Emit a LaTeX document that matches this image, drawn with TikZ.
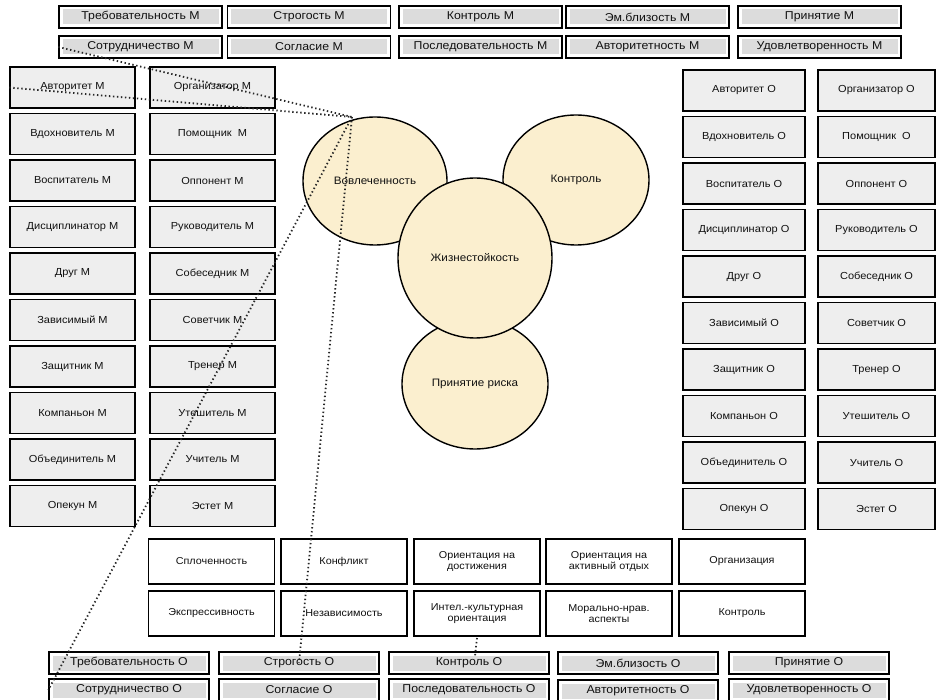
\documentclass[tikz,border=0pt]{standalone}
\usepackage{fontspec}
\setmainfont{Liberation Sans}[FakeStretch=1.08]
\usetikzlibrary{shapes.geometric}
\definecolor{circfill}{HTML}{FBEFCF}
\definecolor{boxfill}{HTML}{EEEEEE}
\definecolor{barfill}{HTML}{DCDCDC}
\definecolor{txt}{HTML}{111111}
\begin{document}
\begin{tikzpicture}[x=1pt,y=-1pt,
  every node/.style={text=txt, inner sep=0pt},
  tbar/.style={draw=black, line width=1.3pt, fill=white, minimum width=#1, minimum height=22pt,
    font=\fontsize{11.4}{12}\selectfont,
    path picture={\fill[barfill] ([shift={(3.5pt,-3.5pt)}]path picture bounding box.north west) rectangle ([shift={(-3.5pt,3.5pt)}]path picture bounding box.south east);}},
  tbar/.default=163pt,
  sidebox/.style={draw=black, line width=1.4pt, fill=boxfill, minimum width=#1, minimum height=41pt,
    font=\fontsize{10.2}{11}\selectfont},
  gridbox/.style={draw=black, line width=1.4pt, fill=white, minimum width=126pt, minimum height=45pt,
    align=center, font=\fontsize{10}{11.5}\selectfont},
  circ/.style={ellipse, draw=black, line width=1.4pt, fill=circfill, font=\fontsize{10.8}{12}\selectfont},
  dots/.style={line width=1.8pt, dash pattern=on 1.4pt off 2.6pt, black!85}
]
\useasboundingbox (0,0) rectangle (938,700);

% top bars
\node[tbar] (t1) at (140.5,17) {Требовательность М};
\node[tbar] (t2) at (309,17) {Строгость М};
\node[tbar] (t3) at (480.5,17) {Контроль М};
\node[tbar] (t4) at (647.5,17) {Эм.близость М};
\node[tbar] (t5) at (819.5,17) {Принятие М};
\node[tbar] (u1) at (140.5,47) {Сотрудничество М};
\node[tbar] (u2) at (309,47) {Согласие М};
\node[tbar] (u3) at (480.5,47) {Последовательность М};
\node[tbar] (u4) at (647.5,47) {Авторитетность М};
\node[tbar] (u5) at (819.5,47) {Удовлетворенность М};

% left columns
\foreach \t [count=\i from 0] in {Авторитет М, Вдохновитель М, Воспитатель М, Дисциплинатор М, Друг М, Зависимый М, Защитник М, Компаньон М, Объединитель М, Опекун М}
  \node[sidebox=125pt] (la\i) at (72.5,87.5+46.5*\i) {\t};
\foreach \t [count=\i from 0] in {Организатор М, Помощник\ \ М, Оппонент М, Руководитель М, Собеседник М, Советчик М, Тренер М, Утешитель М, Учитель М, Эстет М}
  \node[sidebox=125pt] (lb\i) at (212.5,87.5+46.5*\i) {\t};

% right columns
\foreach \t [count=\i from 0] in {Авторитет О, Вдохновитель О, Воспитатель О, Дисциплинатор О, Друг О, Зависимый О, Защитник О, Компаньон О, Объединитель О, Опекун О}
  \node[sidebox=122pt] (ra\i) at (744,90.5+46.5*\i) {\t};
\foreach \t [count=\i from 0] in {Организатор О, Помощник\ \ О, Оппонент О, Руководитель О, Собеседник О, Советчик О, Тренер О, Утешитель О, Учитель О, Эстет О}
  \node[sidebox=117pt] (rb\i) at (876.5,90.5+46.5*\i) {\t};

% circles
\node[circ, minimum width=144pt, minimum height=128pt] (vov) at (375,181) {Вовлеченность};
\node[circ, minimum width=146pt, minimum height=130pt] (kon) at (576,180) {Контроль};
\node[circ, minimum width=146pt, minimum height=130pt] (pri) at (475,384) {Принятие риска};
\node[circ, minimum width=154pt, minimum height=160pt] (zhi) at (475,258) {Жизнестойкость};

% bottom grid
\node[gridbox] (g1) at (211.5,561.5) {Сплоченность};
\node[gridbox] (g2) at (344,561.5) {Конфликт};
\node[gridbox] (g3) at (477,561.5) {Ориентация на\\достижения};
\node[gridbox] (g4) at (609,561.5) {Ориентация на\\активный отдых};
\node[gridbox] (g5) at (742,561.5) {Организация};
\node[gridbox] (g6) at (211.5,613.5) {Экспрессивность};
\node[gridbox] (g7) at (344,613.5) {Независимость};
\node[gridbox] (g8) at (477,613.5) {Интел.-культурная\\ориентация};
\node[gridbox] (g9) at (609,613.5) {Морально-нрав.\\аспекты};
\node[gridbox] (g10) at (742,613.5) {Контроль};

% bottom bars
\node[tbar=160pt] (b1) at (129,663) {Требовательность О};
\node[tbar=160pt] (b2) at (299,663) {Строгость О};
\node[tbar=160pt] (b3) at (469,663) {Контроль О};
\node[tbar=160pt] (b4) at (638,663) {Эм.близость О};
\node[tbar=160pt] (b5) at (809,663) {Принятие О};
\node[tbar=160pt] (c1) at (129,690) {Сотрудничество О};
\node[tbar=160pt] (c2) at (299,690) {Согласие О};
\node[tbar=160pt] (c3) at (469,690) {Последовательность О};
\node[tbar=160pt] (c4) at (638,691) {Авторитетность О};
\node[tbar=160pt] (c5) at (809,690) {Удовлетворенность О};

% dotted connectors
\coordinate (src) at (352,117);
\draw[dots] (u1.west) -- (src);
\draw[dots] (la0.west) -- (src);
\draw[dots] (src) -- (c1.west);
\draw[dots] (src) -- (b2.center);
\coordinate (fa) at (477,638);
\coordinate (fb) at (475,656);
\draw[dots] (fa) -- (fb);
\end{tikzpicture}
\end{document}
